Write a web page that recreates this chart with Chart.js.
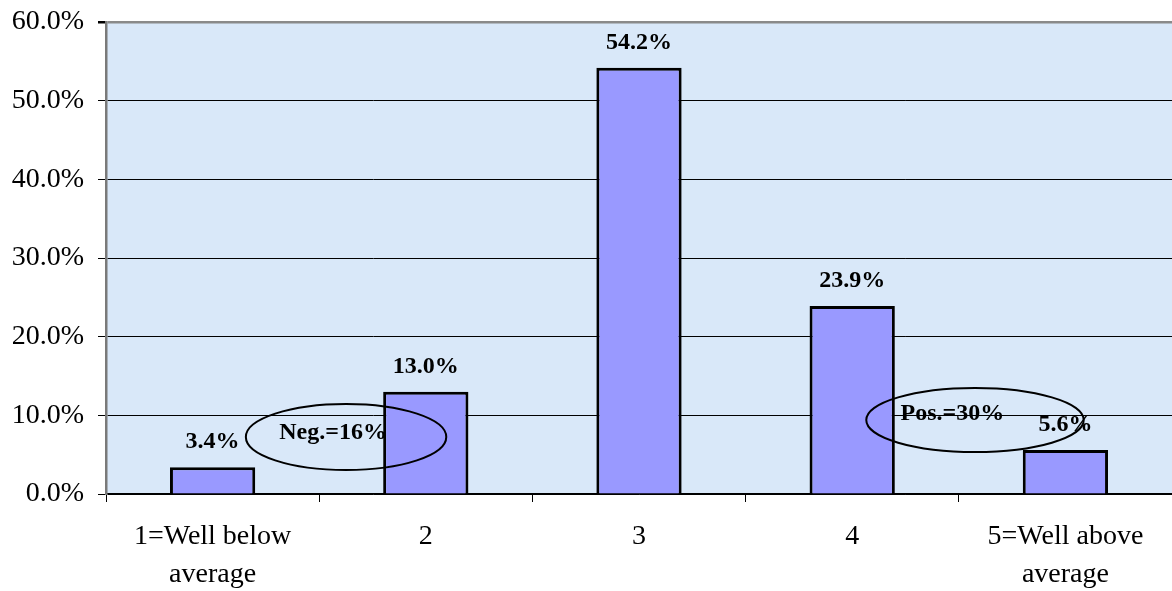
<!DOCTYPE html>
<html>
<head>
<meta charset="utf-8">
<script src="https://cdn.jsdelivr.net/npm/chart.js@4"></script>
<style>
  html, body { margin: 0; padding: 0; background: #fff; }
  #wrap { width: 1172px; height: 591px; }
</style>
</head>
<body>
<div id="wrap"><canvas id="bar-chart"></canvas></div>
<script>
const categories = [["1=Well below", "average"], "2", "3", "4", ["5=Well above", "average"]];
const shares = [3.4, 13.0, 54.2, 23.9, 5.6];
const yTicks = [0, 10, 20, 30, 40, 50, 60];

// circled notes: x is category index, y is percent
const notes = [
  { text: "Neg.=16%", cx: 0.626, cy: 7.25, rx: 0.47, ry: 4.2, tx: 0.565, ty: 7.75 },
  { text: "Pos.=30%", cx: 3.576, cy: 9.4, rx: 0.51, ry: 4.07, tx: 3.47, ty: 10.2 }
];

const serif = "'Liberation Serif', 'Times New Roman', serif";

const backdrop = {
  id: 'backdrop',
  beforeDraw(chart) {
    const { ctx, chartArea: a } = chart;
    ctx.save();
    ctx.fillStyle = '#d9e8f9';
    ctx.fillRect(a.left, a.top, a.right - a.left, a.bottom - a.top);
    ctx.restore();
  }
};

const valueLabels = {
  id: 'valueLabels',
  afterDatasetsDraw(chart) {
    const { ctx } = chart;
    const meta = chart.getDatasetMeta(0);
    ctx.save();
    ctx.font = "bold 24px " + serif;
    ctx.fillStyle = '#000';
    ctx.textAlign = 'center';
    ctx.textBaseline = 'middle';
    meta.data.forEach((bar, i) => {
      ctx.fillText(shares[i].toFixed(1) + '%', bar.x, bar.y - 25);
    });
    ctx.restore();
  }
};

const ovals = {
  id: 'ovals',
  afterDraw(chart) {
    const { ctx, scales: { x, y } } = chart;
    ctx.save();
    notes.forEach(n => {
      const cx = x.getPixelForValue(n.cx);
      const cy = y.getPixelForValue(n.cy);
      const rx = x.getPixelForValue(n.cx + n.rx) - cx;
      const ry = y.getPixelForValue(n.cy - n.ry) - cy;
      ctx.beginPath();
      ctx.ellipse(cx, cy, rx, ry, 0, 0, Math.PI * 2);
      ctx.strokeStyle = '#000';
      ctx.lineWidth = 2;
      ctx.stroke();
      ctx.font = "bold 24px " + serif;
      ctx.fillStyle = '#000';
      ctx.textAlign = 'center';
      ctx.textBaseline = 'middle';
      ctx.fillText(n.text, x.getPixelForValue(n.tx), y.getPixelForValue(n.ty));
    });
    ctx.restore();
  }
};

new Chart(document.getElementById("bar-chart"), {
  type: 'bar',
  data: {
    labels: categories,
    datasets: [{
      data: shares,
      backgroundColor: '#9999ff',
      borderColor: '#000',
      borderWidth: 3,
      categoryPercentage: 1,
      barPercentage: 0.4
    }]
  },
  options: {
    responsive: true,
    maintainAspectRatio: false,
    animation: false,
    layout: { padding: { top: 22, right: 0, left: 0, bottom: 0 } },
    plugins: {
      legend: { display: false },
      tooltip: { enabled: false }
    },
    scales: {
      x: {
        grid: {
          offset: true,
          drawOnChartArea: false,
          drawTicks: true,
          tickLength: 8,
          color: '#000'
        },
        border: { color: '#000', width: 1.5 },
        ticks: {
          color: '#000',
          font: { family: serif, size: 28, lineHeight: 1.36 },
          padding: 16,
          maxRotation: 0,
          autoSkip: false
        },
        afterFit(scale) { scale.height = 97; scale.paddingLeft = 0; scale.paddingRight = 0; }
      },
      y: {
        min: 0,
        max: 60,
        afterBuildTicks(scale) { scale.ticks = yTicks.map(v => ({ value: v })); },
        grid: {
          color: ctx => ctx.tick && ctx.tick.value === 60 ? '#8a8a8a' : '#000',
          lineWidth: ctx => ctx.tick && ctx.tick.value === 60 ? 2.5 : 1,
          tickLength: 8,
          tickColor: '#000'
        },
        border: { color: '#7a7a7a', width: 2.5 },
        ticks: {
          color: '#000',
          font: { family: serif, size: 28 },
          padding: 14,
          callback: v => v.toFixed(1) + '%'
        },
        afterFit(scale) { scale.width = 106; scale.paddingTop = 0; scale.paddingBottom = 0; }
      }
    }
  },
  plugins: [backdrop, valueLabels, ovals]
});
</script>
</body>
</html>
